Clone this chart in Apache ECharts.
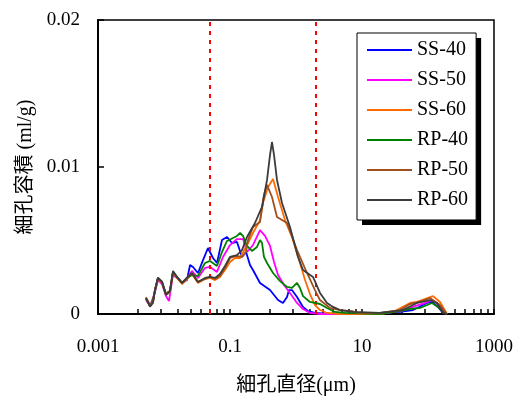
<!DOCTYPE html>
<html><head><meta charset="utf-8">
<script src="https://cdn.jsdelivr.net/npm/echarts@6/dist/echarts.min.js"></script>
<style>html,body{margin:0;padding:0;background:#fff;overflow:hidden}#c{width:521px;height:401px}</style>
</head><body><div id="c"></div>
<script>
// ---- data (pore diameter in μm, pore volume in ml/g) ----
const seriesNames = ['SS-40','SS-50','SS-60','RP-40','RP-50','RP-60'];
const seriesColors = ['#0000FF','#FF00FF','#FF6A00','#008000','#A0501E','#3C3C3C'];
const ss40 = [[0.00533,0.00109],[0.00614,0.00061],[0.0068,0.00082],[0.00731,0.00163],[0.0081,0.00245],[0.00933,0.00218],[0.0107,0.00136],[0.0123,0.00156],[0.0137,0.00286],[0.0157,0.00252],[0.0188,0.00211],[0.0223,0.00231],[0.0248,0.00333],[0.0275,0.0032],[0.0327,0.00279],[0.039,0.00367],[0.0464,0.00449],[0.0552,0.00381],[0.0635,0.00347],[0.0757,0.00503],[0.0901,0.00524],[0.107,0.00483],[0.1276,0.0049],[0.152,0.00388],[0.175,0.00422],[0.201,0.00333],[0.2228,0.00299],[0.285,0.00211],[0.404,0.00163],[0.534,0.00095],[0.635,0.00075],[0.731,0.00116],[0.783,0.00163],[0.869,0.00163],[1.036,0.00116],[1.277,0.00048],[1.52,0.0002],[1.94,0.00007],[3.27,0],[18.7,0.00007],[37.6,0.00014],[59.3,0.00027],[96.6,0.00075],[115,0.00082],[141.8,0.00048],[168.7,0.00007],[194,0]];
const ss50 = [[0.00533,0.00095],[0.00614,0.00054],[0.00731,0.0015],[0.0081,0.00231],[0.00933,0.00204],[0.0107,0.00122],[0.0119,0.00088],[0.01367,0.00265],[0.01574,0.00245],[0.01875,0.00211],[0.0223,0.00245],[0.02655,0.00293],[0.0327,0.00245],[0.0418,0.00313],[0.0498,0.0032],[0.0635,0.00286],[0.0783,0.00388],[0.1,0.00469],[0.1276,0.0051],[0.1574,0.0051],[0.181,0.00422],[0.2228,0.00469],[0.285,0.00571],[0.339,0.00531],[0.404,0.00463],[0.4645,0.00354],[0.534,0.00265],[0.658,0.00197],[0.811,0.00143],[1.036,0.00075],[1.277,0.00034],[1.63,0.00007],[2.31,0],[18.7,0],[31.6,0.00014],[44.9,0.00027],[63.5,0.00054],[90.1,0.00075],[115,0.00095],[141.8,0.00068],[181,0.00007],[194,0]];
const ss60 = [[0.00533,0.00115],[0.00614,0.0006],[0.0068,0.00082],[0.00731,0.00163],[0.0081,0.0024],[0.00933,0.00211],[0.0107,0.0013],[0.0123,0.0015],[0.0137,0.0028],[0.0157,0.00245],[0.0188,0.00204],[0.0223,0.00238],[0.0265,0.00272],[0.0327,0.00211],[0.0418,0.00238],[0.0498,0.00245],[0.0593,0.00231],[0.0705,0.00252],[0.0839,0.00299],[0.1,0.00354],[0.119,0.00381],[0.142,0.00381],[0.1875,0.00483],[0.2228,0.00551],[0.285,0.00639],[0.316,0.00755],[0.377,0.00864],[0.449,0.00918],[0.534,0.00796],[0.681,0.00639],[0.869,0.00524],[1.15,0.00347],[1.37,0.00231],[1.63,0.00136],[1.94,0.00061],[2.31,0.00027],[2.95,0.00007],[4.64,0],[18.7,0],[31.6,0.0002],[53.4,0.00075],[68.1,0.00082],[119,0.00122],[152,0.00082],[194,0]];
const rp40 = [[0.00533,0.00105],[0.00614,0.00054],[0.0068,0.00095],[0.00731,0.00163],[0.0081,0.00245],[0.00933,0.00218],[0.0107,0.00136],[0.0123,0.00156],[0.0137,0.00286],[0.0157,0.00252],[0.0188,0.00211],[0.0223,0.00245],[0.0265,0.00265],[0.0327,0.00259],[0.0418,0.00347],[0.0498,0.00361],[0.0635,0.00327],[0.0757,0.00422],[0.0901,0.00497],[0.1276,0.00531],[0.142,0.00551],[0.1574,0.00531],[0.181,0.00463],[0.2154,0.00429],[0.2565,0.00456],[0.285,0.00503],[0.3055,0.00483],[0.327,0.00388],[0.364,0.00347],[0.449,0.00279],[0.573,0.00224],[0.731,0.00184],[0.869,0.00177],[1.036,0.00211],[1.15,0.00177],[1.277,0.00122],[1.63,0.00082],[2.31,0.00068],[2.95,0.00041],[3.9,0.00014],[5.52,0.00007],[18.7,0],[31.6,0.00014],[53.4,0.00034],[75.7,0.00041],[115,0.00075],[141.8,0.00048],[181,0.00007],[194,0]];
const rp50 = [[0.00533,0.00109],[0.00614,0.00054],[0.0068,0.00082],[0.00731,0.00163],[0.0081,0.00245],[0.00933,0.00218],[0.0107,0.00136],[0.0123,0.00156],[0.0137,0.00286],[0.0157,0.00252],[0.0188,0.00211],[0.0223,0.00245],[0.0265,0.00279],[0.0327,0.00218],[0.0418,0.00238],[0.0498,0.00252],[0.0593,0.00238],[0.0705,0.00259],[0.0839,0.00313],[0.1,0.00381],[0.123,0.00395],[0.152,0.00388],[0.175,0.00422],[0.1875,0.00503],[0.2228,0.00592],[0.285,0.00626],[0.327,0.0081],[0.364,0.00878],[0.4325,0.00796],[0.515,0.0066],[0.731,0.00619],[1.036,0.00435],[1.468,0.00279],[1.94,0.00163],[2.31,0.00095],[3.27,0.00041],[4.64,0.00027],[7.05,0.0002],[8.7,0.00007],[18.7,0.00007],[37.6,0.00027],[53.4,0.00068],[75.7,0.00082],[107,0.00109],[152,0.00061],[194,0]];
const rp60 = [[0.00533,0.00109],[0.00614,0.0005],[0.0068,0.00075],[0.00731,0.00163],[0.0081,0.00245],[0.00933,0.00218],[0.0107,0.00129],[0.0123,0.00156],[0.0137,0.00293],[0.0157,0.00252],[0.0188,0.00211],[0.0223,0.00245],[0.0265,0.00279],[0.0327,0.00218],[0.0418,0.00245],[0.0498,0.00252],[0.0593,0.00245],[0.0705,0.00272],[0.0839,0.00327],[0.1,0.00388],[0.1276,0.00401],[0.152,0.00435],[0.181,0.00524],[0.239,0.00619],[0.3055,0.00728],[0.364,0.00912],[0.404,0.01082],[0.4325,0.0117],[0.4645,0.01082],[0.515,0.00912],[0.614,0.00755],[0.811,0.00592],[1.072,0.00388],[1.277,0.00299],[1.81,0.00252],[2.31,0.00143],[2.95,0.00075],[3.64,0.00048],[4.64,0.00027],[7.31,0.00014],[18.7,0.00007],[41.8,0.00027],[68.1,0.00075],[107,0.00095],[136.8,0.00075],[168.7,0.00007],[194,0]];
const seriesData = [ss40, ss50, ss60, rp40, rp50, rp60];
const refLines = [0.05, 2];
const xLabelValues = [0.001, 0.1, 10, 1000];
const xLabelTexts = ['0.001', '0.1', '10', '1000'];
const xTickValues = [0.001,0.004,0.009,0.016,0.025,0.036,0.049,0.064,0.081,0.1,0.4,0.9,1.6,2.5,3.6,4.9,6.4,8.1,10,40,90,160,250,360,490,640,810,1000];

const FONT = "'Liberation Serif','Times New Roman','Noto Sans CJK JP',serif";
const chart = echarts.init(document.getElementById('c'), null, {renderer: 'canvas'});

const series = seriesNames.map((n, i) => ({
  name: n, type: 'line', data: seriesData[i], symbol: 'none', smooth: false,
  lineStyle: {color: seriesColors[i], width: 1.8}, itemStyle: {color: seriesColors[i]},
  z: 3 + i, animation: false,
  markLine: i === 0 ? {
    silent: true, symbol: ['none','none'], label: {show: false},
    lineStyle: {color: '#FF0000', type: [4, 5], width: 2},
    data: refLines.map(v => ({xAxis: v}))
  } : undefined
}));

const legendBase = {
  orient: 'vertical', itemWidth: 45, itemHeight: 14, itemGap: 10,
  padding: [7, 8, 10, 10], selectedMode: false,
  data: seriesNames.map(n => ({name: n, icon: 'path://M0,0 L45,0 L45,2 L0,2 Z'}))
};

chart.setOption({
  animation: false,
  textStyle: {fontFamily: FONT},
  grid: {left: 98, top: 20, right: 27, bottom: 87, show: true, borderColor: '#000', borderWidth: 1.5,
    containLabel: false, outerBoundsMode: 'none'},
  legend: [
    // solid black drop shadow (same box, offset 5px)
    Object.assign({}, legendBase, {left: 362, top: 38, z: 20, backgroundColor: '#000', borderWidth: 0,
      textStyle: {fontFamily: FONT, fontSize: 20, color: 'rgba(0,0,0,0)'}}),
    Object.assign({}, legendBase, {left: 357, top: 33, z: 30, backgroundColor: '#fff', borderColor: '#000', borderWidth: 1,
      textStyle: {fontFamily: FONT, fontSize: 20, color: '#000'}})
  ],
  xAxis: {
    type: 'log', logBase: 100, min: 0.001, max: 1000,
    name: '細孔直径(μm)', nameLocation: 'middle', nameGap: 62,
    nameTextStyle: {fontFamily: FONT, fontSize: 20, color: '#000'},
    axisLine: {lineStyle: {color: '#000', width: 2}},
    axisTick: {inside: true, length: 5, lineStyle: {color: '#000', width: 1.5}, customValues: xTickValues},
    axisLabel: {fontFamily: FONT, fontSize: 19, color: '#000', margin: 24, customValues: xLabelValues,
      formatter: v => { const k = xLabelValues.findIndex(t => Math.abs(Math.log10(t) - Math.log10(v)) < 1e-6); return k >= 0 ? xLabelTexts[k] : ''; }},
    splitLine: {show: false}, minorTick: {show: false}
  },
  yAxis: {
    type: 'value', min: 0, max: 0.02, interval: 0.01,
    name: '細孔容積 (ml/g)', nameLocation: 'middle', nameGap: 58, nameRotate: 90,
    nameTextStyle: {fontFamily: FONT, fontSize: 20, color: '#000'},
    axisLine: {show: true, lineStyle: {color: '#000', width: 2}},
    axisTick: {show: true, inside: true, length: 6, lineStyle: {color: '#000', width: 1.5}},
    axisLabel: {fontFamily: FONT, fontSize: 19, color: '#000', margin: 18},
    splitLine: {show: false}
  },
  series: series
});
</script></body></html>
